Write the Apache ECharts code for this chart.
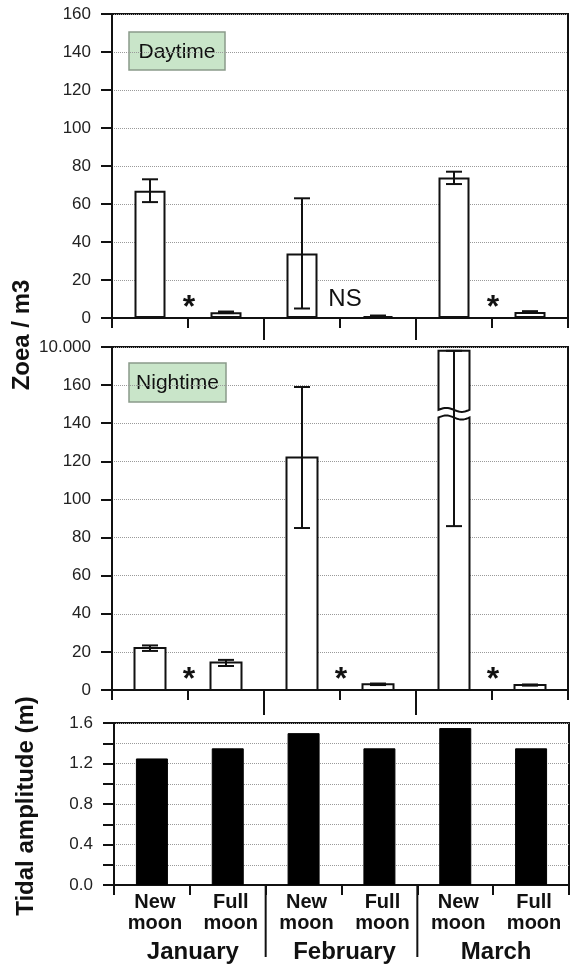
<!DOCTYPE html>
<html><head><meta charset="utf-8">
<script src="https://cdn.jsdelivr.net/npm/echarts@6/dist/echarts.min.js"></script>
<style>html,body{margin:0;padding:0;background:#fff}#c{width:570px;height:967px}</style>
</head><body><div id="c"></div>
<script>
// ---------------- data ----------------
const categories = ['New\nmoon', 'Full\nmoon', 'New\nmoon', 'Full\nmoon', 'New\nmoon', 'Full\nmoon'];
const months = ['January', 'February', 'March'];

const dayMean     = [67,   3,   34,  1,   74,   3.2];
const dayErrLow   = [61,   2.6, 5,   0.7, 70.5, 2.8];
const dayErrHigh  = [73,   3.4, 63,  1.3, 77,   3.6];

const nightMean    = [22,   14.4, 122, 3,   9800, 2.6];
const nightErrLow  = [20.5, 12.6, 85,  2.6, 86,   2.3];
const nightErrHigh = [23.4, 15.8, 159, 3.4, 9800, 2.9];

const tidalAmplitude = [1.25, 1.35, 1.50, 1.35, 1.55, 1.35];

const daySignif   = ['*', 'NS', '*'];
const nightSignif = ['*', '*', '*'];

const dayTicks   = [0, 20, 40, 60, 80, 100, 120, 140, 160];
const nightTicks = [0, 20, 40, 60, 80, 100, 120, 140, 160];
const nightTopLabel = '10.000';
const tideTicks  = [0.0, 0.4, 0.8, 1.2, 1.6];

// ---------------- helpers ----------------
const FONT = "'Liberation Sans', Arial, Helvetica, sans-serif";
const INK = '#111';
const NIGHT_MAX = 180;          // axis top, labelled 10.000
const NIGHT_TOP_VALUE = 10000;
const NIGHT_UPPER_STEP = 100;   // units per axis unit above the break
const BREAK_LO = 143, BREAK_HI = 147;

function nightDisplay(v) {
  return v <= NIGHT_MAX ? v : NIGHT_MAX - (NIGHT_TOP_VALUE - v) / NIGHT_UPPER_STEP;
}

function yAxisBase(grid, min, max, interval, fmt) {
  return {
    gridIndex: grid, type: 'value', min, max, interval,
    axisLine: { show: true, lineStyle: { color: INK, width: 2 } },
    axisTick: { show: true, inside: false, length: 11, lineStyle: { color: INK, width: 2 } },
    axisLabel: { show: true, fontSize: 17, fontFamily: FONT, color: '#222', margin: 21, formatter: fmt },
    splitLine: { show: true, lineStyle: { type: 'dotted', color: '#9a9a9a', width: 1 } }
  };
}
function xAxisBase(grid, showLabel) {
  return {
    gridIndex: grid, type: 'category', data: categories, boundaryGap: true, position: 'bottom',
    axisLine: { show: true, lineStyle: { color: INK, width: 2 } },
    axisTick: { show: true, inside: false, length: 10, alignWithLabel: false, interval: 0, lineStyle: { color: INK, width: 2 } },
    axisLabel: showLabel ? { show: true, interval: 0, fontSize: 20, fontWeight: 'bold', fontFamily: FONT,
      lineHeight: 21, margin: 7, color: INK, padding: [0, 0, 0, 6] } : { show: false },
    splitLine: { show: false }
  };
}

function errorBarSeries(axisIdx, low, high, map) {
  return {
    type: 'custom', xAxisIndex: axisIdx, yAxisIndex: axisIdx, z: 5, silent: true,
    data: low.map((l, i) => [i, map(l), map(high[i])]),
    renderItem(params, api) {
      const i = api.value(0);
      const x = api.coord([i, 0])[0];
      const yl = api.coord([i, api.value(1)])[1];
      const yh = api.coord([i, api.value(2)])[1];
      const hw = 8;
      const style = { stroke: INK, lineWidth: 2 };
      return { type: 'group', children: [
        { type: 'line', shape: { x1: x, y1: yl, x2: x, y2: yh }, style },
        { type: 'line', shape: { x1: x - hw, y1: yl, x2: x + hw, y2: yl }, style },
        { type: 'line', shape: { x1: x - hw, y1: yh, x2: x + hw, y2: yh }, style }
      ] };
    }
  };
}

function monthSepSeries(axisIdx, len) {
  return {
    type: 'custom', xAxisIndex: axisIdx, yAxisIndex: axisIdx, z: 6, silent: true, clip: false,
    data: months.slice(0, -1).map((m, k) => [2 * k + 1, 0]),
    renderItem(params, api) {
      const p = api.coord([api.value(0), 0]);
      const w = api.size([1, 0])[0];
      const x = p[0] + w / 2;
      return { type: 'line', shape: { x1: x, y1: p[1], x2: x, y2: p[1] + len }, style: { stroke: INK, lineWidth: 2 } };
    }
  };
}

function signifSeries(axisIdx, labels) {
  return {
    type: 'custom', xAxisIndex: axisIdx, yAxisIndex: axisIdx, z: 6, silent: true, clip: false,
    data: labels.map((t, k) => [2 * k, 0]),
    renderItem(params, api) {
      const p = api.coord([api.value(0), 0]);
      const w = api.size([1, 0])[0];
      const t = labels[params.dataIndex];
      const star = t === '*';
      return { type: 'text', x: p[0] + w / 2 + (star ? 1 : 5), y: p[1] - (star ? 10 : 19),
        style: { text: t, font: star ? 'bold 32px ' + FONT : '24px ' + FONT, fill: INK, align: 'center', verticalAlign: 'middle' } };
    }
  };
}

function wavePts(xl, xr, yb, amp, n, reverse) {
  const pts = [];
  for (let k = 0; k <= n; k++) {
    const t = k / n;
    pts.push([xl + (xr - xl) * t, yb - amp * Math.sin(2 * Math.PI * t)]);
  }
  return reverse ? pts.reverse() : pts;
}

const BAR_W = 31;
const nightBarSeries = {
  type: 'custom', xAxisIndex: 1, yAxisIndex: 1, z: 3, silent: true,
  data: nightMean.map((v, i) => [i, nightDisplay(v)]),
  renderItem(params, api) {
    const i = api.value(0), v = api.value(1);
    const c = api.coord([i, 0]);
    const xl = c[0] - BAR_W / 2, xr = c[0] + BAR_W / 2, y0 = c[1];
    const style = { fill: '#fff', stroke: INK, lineWidth: 2 };
    const yTop = api.coord([i, v])[1];
    if (nightMean[params.dataIndex] <= NIGHT_MAX) {
      return { type: 'rect', shape: { x: xl, y: yTop, width: BAR_W, height: y0 - yTop }, style };
    }
    const yLo = api.coord([i, BREAK_LO])[1];
    const yHi = api.coord([i, BREAK_HI])[1];
    const lower = [[xl, y0]].concat(wavePts(xl, xr, yLo, 2, 20, false), [[xr, y0]]);
    const upper = [[xl, yTop], [xr, yTop]].concat(wavePts(xl, xr, yHi, 2, 20, true));
    return { type: 'group', children: [
      { type: 'polygon', shape: { points: lower }, style },
      { type: 'polygon', shape: { points: upper }, style }
    ] };
  }
};

function labelBox(x, y, w, h, text) {
  return { type: 'group', x, y, children: [
    { type: 'rect', shape: { x: 0, y: 0, width: w, height: h }, style: { fill: '#c9e5c9', stroke: '#8a9a8a', lineWidth: 1.5 } },
    { type: 'text', x: w / 2, y: h / 2 + 1, style: { text, font: '21px ' + FONT, fill: INK, align: 'center', verticalAlign: 'middle' } }
  ] };
}

const gridBase = { show: true, borderColor: INK, borderWidth: 2, backgroundColor: 'transparent', containLabel: false, outerBoundsMode: 'none' };

const option = {
  animation: false,
  backgroundColor: '#fff',
  grid: [
    Object.assign({ left: 112, top: 14, width: 456, height: 304 }, gridBase),
    Object.assign({ left: 112, top: 347, width: 456, height: 343 }, gridBase),
    Object.assign({ left: 114, top: 723, width: 455, height: 162 }, gridBase)
  ],
  xAxis: [
    xAxisBase(0, false),
    xAxisBase(1, false),
    xAxisBase(2, true),
    { gridIndex: 2, type: 'category', data: months, position: 'bottom',
      axisLine: { show: false }, axisTick: { show: false }, splitLine: { show: false },
      axisLabel: { show: true, interval: 0, fontSize: 24, fontWeight: 'bold', fontFamily: FONT, lineHeight: 24,
        margin: 55, color: INK, padding: [0, 0, 0, 6] } }
  ],
  yAxis: [
    yAxisBase(0, dayTicks[0], dayTicks[dayTicks.length - 1], dayTicks[1] - dayTicks[0], v => String(v)),
    yAxisBase(1, nightTicks[0], NIGHT_MAX, nightTicks[1] - nightTicks[0],
      v => (v >= NIGHT_MAX ? nightTopLabel : (nightTicks.indexOf(v) >= 0 ? String(v) : ''))),
    yAxisBase(2, tideTicks[0], tideTicks[tideTicks.length - 1], (tideTicks[1] - tideTicks[0]) / 2,
      v => (Math.round(v * 5) % 2 === 0 ? v.toFixed(1) : ''))
  ],
  graphic: [
    labelBox(129, 32, 96, 38, 'Daytime'),
    labelBox(129, 363, 97, 39, 'Nightime'),
    { type: 'text', x: 22, y: 335, rotation: Math.PI / 2,
      style: { text: 'Zoea / m3', font: 'bold 24px ' + FONT, fill: INK, align: 'center', verticalAlign: 'middle' } },
    { type: 'text', x: 26, y: 806, rotation: Math.PI / 2,
      style: { text: 'Tidal amplitude (m)', font: 'bold 24px ' + FONT, fill: INK, align: 'center', verticalAlign: 'middle' } }
  ],
  series: [
    { type: 'bar', xAxisIndex: 0, yAxisIndex: 0, data: dayMean, barWidth: BAR_W, z: 3,
      itemStyle: { color: '#fff', borderColor: INK, borderWidth: 2 } },
    errorBarSeries(0, dayErrLow, dayErrHigh, v => v),
    signifSeries(0, daySignif),
    monthSepSeries(0, 22),

    nightBarSeries,
    errorBarSeries(1, nightErrLow, nightErrHigh, nightDisplay),
    signifSeries(1, nightSignif),
    monthSepSeries(1, 25),

    { type: 'bar', xAxisIndex: 2, yAxisIndex: 2, data: tidalAmplitude, barWidth: 32, z: 3,
      itemStyle: { color: '#000', borderColor: '#000', borderWidth: 1 } },
    monthSepSeries(2, 72)
  ]
};

const chart = echarts.init(document.getElementById('c'), null, { renderer: 'canvas' });
chart.setOption(option);
</script>
</body></html>
